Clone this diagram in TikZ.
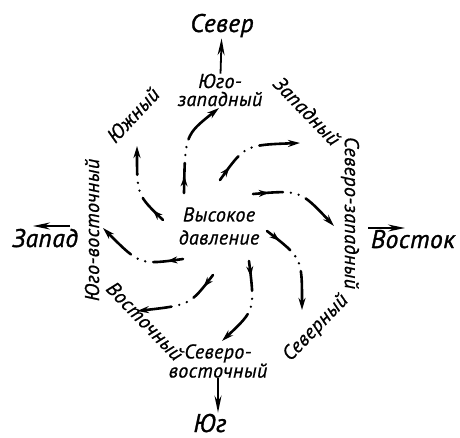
\documentclass[tikz,border=0pt]{standalone}
\usepackage{fontspec}
\setmainfont{PT Sans}
\newfontfamily\windfont{PT Sans}[LetterSpace=2, FakeBold=0.8]
\newfontfamily\pointfont{PT Sans}[LetterSpace=2, FakeBold=1.2]
\usepackage{tikz}
\usetikzlibrary{arrows.meta, positioning, decorations.markings}
\tikzset{
  dirlabel/.style={font=\fontsize{25.5}{28}\selectfont\pointfont\itshape,
                   inner sep=1pt, anchor=base},
  windlabel/.style={font=\fontsize{20}{18}\selectfont\windfont\itshape,
                    inner sep=0pt, align=center},
  dirarrow/.style={-{Stealth[length=17pt,width=7pt]}, line width=1.8pt},
  arm/.style={line width=2.6pt, line cap=round,
              dash pattern=on 30pt off 8pt on 0pt off 8pt on 0pt off 8pt on 300pt off 1pt,
              -{Stealth[length=12pt,width=7pt]},
              decoration={markings, mark=at position 0.17 with
                          {\arrow{Stealth[length=10pt,width=7pt]}}},
              postaction={decorate}},
}

\begin{document}
\begin{tikzpicture}[x=1pt, y=-1pt]
  \useasboundingbox (0,0) rectangle (460,438);

  % --- Centre ---
  \node[windlabel, font=\fontsize{20}{23}\selectfont\windfont\itshape]
    (high) at (219,226) {Высокое\\давление};

  % --- Cardinal points ---
  \node[dirlabel] (north) at (222,32) {Север};
  \node[dirlabel] (south) at (210,432) {Юг};
  \node[dirlabel] (west) at (45,247) {Запад};
  \node[dirlabel] (east) at (413,248) {Восток};

  % --- Wind names ---
  \node[windlabel] (swl) at (220,90) {Юго-\\западный};
  \node[windlabel, rotate=-46] (wl) at (307,111) {Западный};
  \node[windlabel, rotate=-90] (nwl) at (350,213) {Северо-западный};
  \node[windlabel, rotate=46] (nl) at (316,328) {Северный};
  \node[windlabel] (nel) at (218,361) {Северо-\\восточный};
  \node[windlabel, rotate=-46] (el) at (145,321) {Восточный};
  \node[windlabel, rotate=90] (sel) at (92,230) {Юго-восточный};
  \node[windlabel, rotate=47] (sl) at (133,115) {Южный};

  % --- Direction arrows ---
  \coordinate (westtail) at (70,226);
  \coordinate (westtip) at (33,226);
  \coordinate (easttail) at (368,228);
  \coordinate (easttip) at (405,228);
  \draw[dirarrow] (swl) -- (north);
  \draw[dirarrow] (nel) -- (nel |- south.north);
  \draw[dirarrow] (westtail) -- (westtip);
  \draw[dirarrow] (easttail) -- (easttip);

  % --- Spiral arms ---
  \coordinate (a1) at (184,193); \coordinate (b1) at (219,108);
  \coordinate (a2) at (220,180); \coordinate (b2) at (300,143);
  \coordinate (a3) at (253,194); \coordinate (b3) at (334,226);
  \coordinate (a4) at (267,231); \coordinate (b4) at (302,310);
  \coordinate (a5) at (249,261); \coordinate (b5) at (222,341);
  \coordinate (a6) at (213,275); \coordinate (b6) at (137,311);
  \coordinate (a7) at (183,259); \coordinate (b7) at (103,228);
  \coordinate (a8) at (163,220); \coordinate (b8) at (137,146);

  \draw[arm] (a1) .. controls (185,135) .. (b1);
  \draw[arm] (a2) .. controls (245,145) .. (b2);
  \draw[arm] (a3) .. controls (300,190) .. (b3);
  \draw[arm] (a4) .. controls (302,258) .. (b4);
  \draw[arm] (a5) .. controls (255,310) .. (b5);
  \draw[arm] (a6) .. controls (190,305) .. (b6);
  \draw[arm] (a7) .. controls (140,265) .. (b7);
  \draw[arm] (a8) .. controls (137,195) .. (b8);

\end{tikzpicture}
\end{document}
